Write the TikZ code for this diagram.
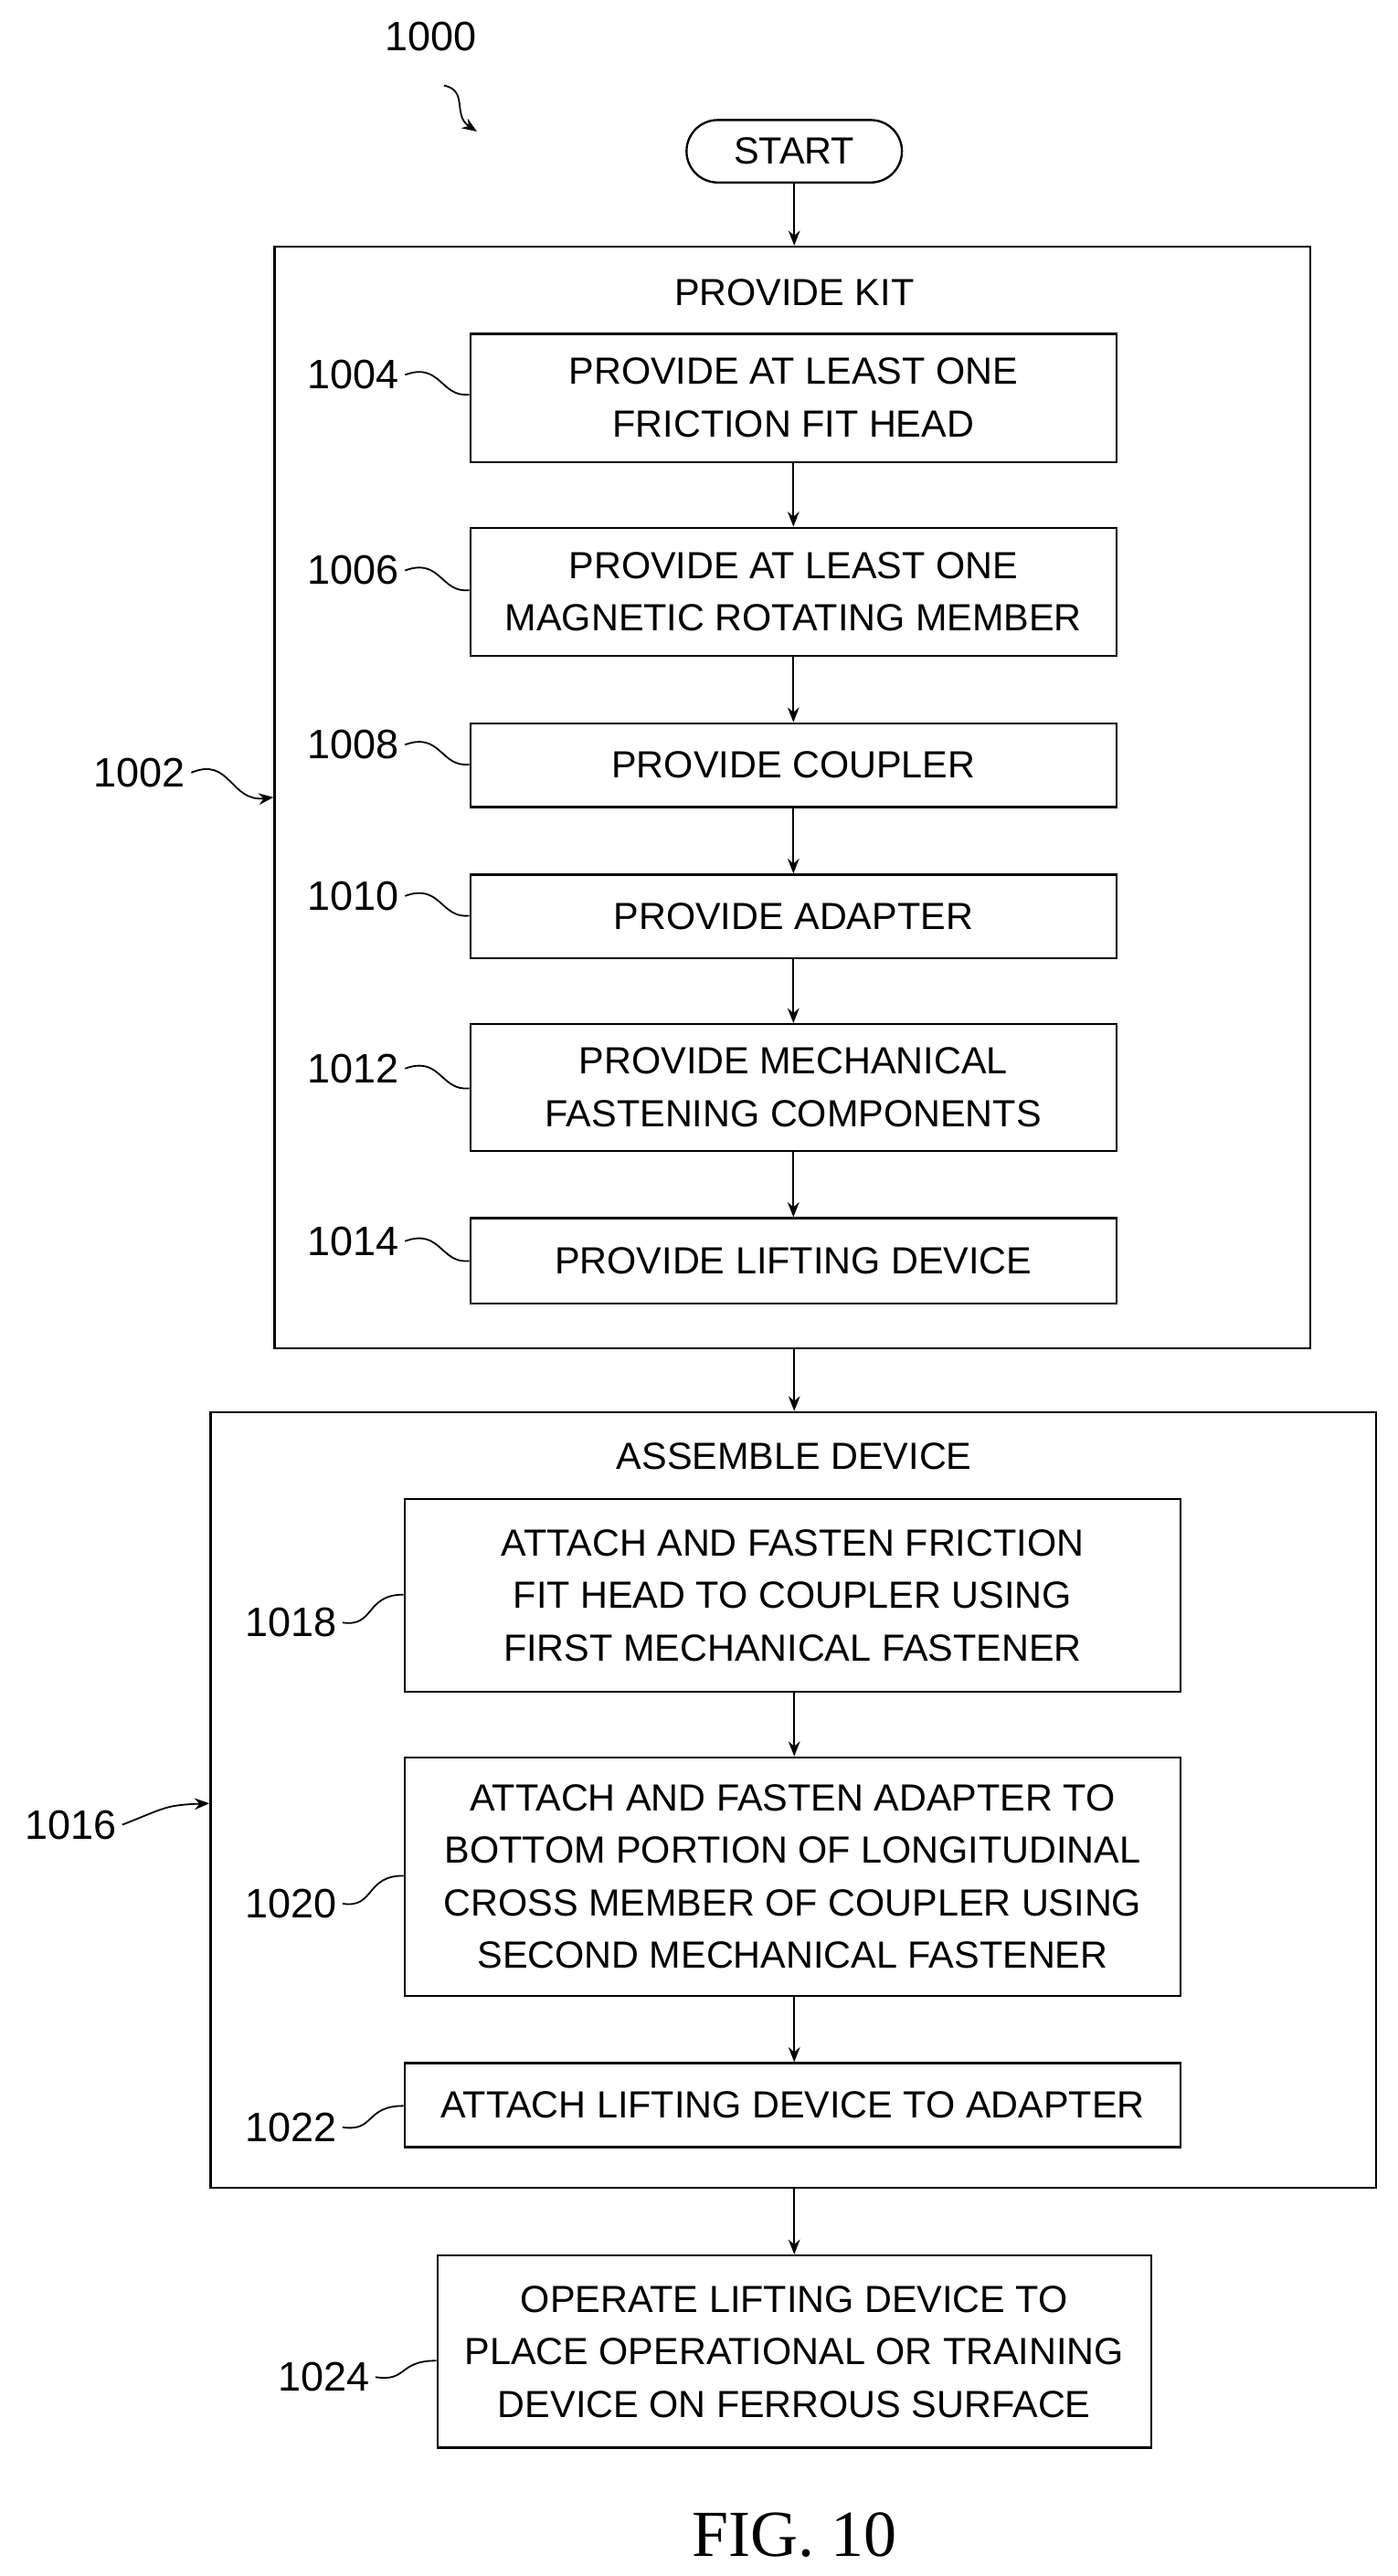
\documentclass[tikz,border=0pt]{standalone}
\usepackage{fontspec}
\setmainfont{Liberation Sans}
\newfontfamily\figfont{Liberation Serif}
\usetikzlibrary{arrows.meta}
\begin{document}
\begin{tikzpicture}[x=1pt,y=-1pt,
  box/.style={draw,line width=1.3pt,align=center,font=\fontsize{23}{32}\selectfont,inner sep=0pt},
  lab/.style={font=\fontsize{25}{30}\selectfont},
  arr/.style={-{Stealth[length=9pt,width=7pt]},line width=1.3pt},
  sq/.style={line width=1pt}]
\useasboundingbox (0,0) rectangle (850,1567);
% start
\node[box,rounded corners=19pt,minimum width=131pt,minimum height=38pt] (start) at (483,92) {START};
% outer boxes
\node[draw,line width=1.3pt,minimum width=630pt,minimum height=670pt,inner sep=0pt] (kit) at (482,485) {};
\node[font=\fontsize{23}{32}\selectfont] (kitt) at (483,178) {PROVIDE KIT};
\node[draw,line width=1.3pt,minimum width=709pt,minimum height=472pt,inner sep=0pt] (asm) at (482.5,1095) {};
\node[font=\fontsize{23}{32}\selectfont] (asmt) at (483,886) {ASSEMBLE DEVICE};
% inner boxes
\node[box,minimum width=393pt,minimum height=78pt] (b1004) at (482.5,242) {PROVIDE AT LEAST ONE\\FRICTION FIT HEAD};
\node[box,minimum width=393pt,minimum height=78pt] (b1006) at (482.5,360) {PROVIDE AT LEAST ONE\\MAGNETIC ROTATING MEMBER};
\node[box,minimum width=393pt,minimum height=51pt] (b1008) at (482.5,465.5) {PROVIDE COUPLER};
\node[box,minimum width=393pt,minimum height=51pt] (b1010) at (482.5,557.5) {PROVIDE ADAPTER};
\node[box,minimum width=393pt,minimum height=77pt] (b1012) at (482.5,661.5) {PROVIDE MECHANICAL\\FASTENING COMPONENTS};
\node[box,minimum width=393pt,minimum height=52pt] (b1014) at (482.5,767) {PROVIDE LIFTING DEVICE};
\node[box,minimum width=472pt,minimum height=117pt] (b1018) at (482,970.5) {ATTACH AND FASTEN FRICTION\\FIT HEAD TO COUPLER USING\\FIRST MECHANICAL FASTENER};
\node[box,minimum width=472pt,minimum height=145pt] (b1020) at (482,1141.5) {ATTACH AND FASTEN ADAPTER TO\\BOTTOM PORTION OF LONGITUDINAL\\CROSS MEMBER OF COUPLER USING\\SECOND MECHANICAL FASTENER};
\node[box,minimum width=472pt,minimum height=51pt] (b1022) at (482,1280.5) {ATTACH LIFTING DEVICE TO ADAPTER};
\node[box,minimum width=434pt,minimum height=117pt] (b1024) at (483,1430.5) {OPERATE LIFTING DEVICE TO\\PLACE OPERATIONAL OR TRAINING\\DEVICE ON FERROUS SURFACE};
% arrows
\draw[arr] (start.south) -- (kit.north -| start.south);
\draw[arr] (b1004) -- (b1006);
\draw[arr] (b1006) -- (b1008);
\draw[arr] (b1008) -- (b1010);
\draw[arr] (b1010) -- (b1012);
\draw[arr] (b1012) -- (b1014);
\draw[arr] (kit.south -| start.south) -- (asm.north -| start.south);
\draw[arr] (b1018.south -| start.south) -- (b1020.north -| start.south);
\draw[arr] (b1020.south -| start.south) -- (b1022.north -| start.south);
\draw[arr] (asm.south -| start.south) -- (b1024.north -| start.south);
% labels
\node[lab] (l1000) at (262,22) {1000};
\coordinate (c1000) at (290,80);
\draw[sq,-{Stealth[length=9pt,width=7pt]}] (270,52) .. controls (285,55) and (275,70) .. (c1000);
\node[lab] (l1002) at (85,470) {1002};
\draw[sq,-{Stealth[length=9pt,width=7pt]}] (l1002.east) .. controls (140,460) and (140,488) .. (kit.west |- 0,485);
\node[lab] (l1016) at (43,1110) {1016};
\draw[sq,-{Stealth[length=9pt,width=7pt]}] (l1016.east) .. controls (100,1100) and (100,1098) .. (asm.west |- 0,1097);
\node[lab] (l1004) at (215,228) {1004};
\draw[sq] (l1004.east) .. controls (268,220) and (268,242) .. (b1004.west |- 0,240);
\node[lab] (l1006) at (215,347) {1006};
\draw[sq] (l1006.east) .. controls (268,339) and (268,361) .. (b1006.west |- 0,359);
\node[lab] (l1008) at (215,453) {1008};
\draw[sq] (l1008.east) .. controls (268,445) and (268,467) .. (b1008.west |- 0,465);
\node[lab] (l1010) at (215,545) {1010};
\draw[sq] (l1010.east) .. controls (268,537) and (268,559) .. (b1010.west |- 0,557);
\node[lab] (l1012) at (215,650) {1012};
\draw[sq] (l1012.east) .. controls (268,642) and (268,664) .. (b1012.west |- 0,662);
\node[lab] (l1014) at (215,755) {1014};
\draw[sq] (l1014.east) .. controls (268,747) and (268,769) .. (b1014.west |- 0,767);
\node[lab] (l1018) at (177,987) {1018};
\draw[sq] (l1018.east) .. controls (228,990) and (222,970) .. (b1018.west |- 0,970);
\node[lab] (l1020) at (177,1158) {1020};
\draw[sq] (l1020.east) .. controls (228,1161) and (222,1141) .. (b1020.west |- 0,1141);
\node[lab] (l1022) at (177,1294) {1022};
\draw[sq] (l1022.east) .. controls (228,1297) and (222,1281) .. (b1022.west |- 0,1281);
\node[lab] (l1024) at (197,1446) {1024};
\draw[sq] (l1024.east) .. controls (248,1449) and (242,1436) .. (b1024.west |- 0,1436);
\node[font=\figfont\fontsize{40}{44}\selectfont] (fig) at (483,1542) {FIG. 10};
\end{tikzpicture}
\end{document}
